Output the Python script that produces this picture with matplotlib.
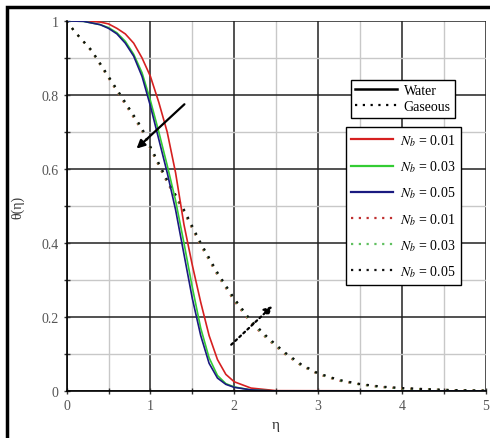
import numpy as np
import matplotlib
matplotlib.use("Agg")
import matplotlib.pyplot as plt
from matplotlib.lines import Line2D
from matplotlib.patches import Rectangle

plt.rcParams['font.family'] = ['Liberation Serif', 'DejaVu Serif']
plt.rcParams['mathtext.fontset'] = 'stix'

# water (solid) curves
eta_w = [0, 0.2, 0.4, 0.5, 0.6, 0.7, 0.8, 0.9, 1.0, 1.1, 1.2, 1.3, 1.4, 1.5,
         1.6, 1.7, 1.8, 1.9, 2.0, 2.2, 2.5, 5.0]
water_nb001 = [1.0, 1.0, 0.997, 0.992, 0.98, 0.965, 0.94, 0.9, 0.85, 0.78, 0.70,
               0.59, 0.45, 0.34, 0.24, 0.15, 0.085, 0.045, 0.025, 0.008, 0.001, 0.0]
water_nb003 = [1.0, 0.999, 0.99, 0.982, 0.968, 0.945, 0.91, 0.86, 0.785, 0.70, 0.61,
               0.515, 0.40, 0.28, 0.17, 0.09, 0.042, 0.02, 0.011, 0.003, 0.0, 0.0]
water_nb005 = [1.0, 0.999, 0.99, 0.98, 0.965, 0.94, 0.905, 0.85, 0.77, 0.68, 0.59,
               0.49, 0.37, 0.25, 0.15, 0.075, 0.035, 0.018, 0.01, 0.003, 0.0, 0.0]

# gaseous (dotted) curves
eta_g = [0, 0.1, 0.3, 0.5, 0.7, 0.9, 1.0, 1.2, 1.4, 1.6, 1.8, 2.0, 2.2, 2.4,
         2.6, 2.8, 3.0, 3.25, 3.5, 3.75, 4.0, 4.5, 5.0]
gas_nb001 = [1.0, 0.97, 0.918, 0.846, 0.775, 0.704, 0.655, 0.564, 0.484, 0.394,
             0.314, 0.244, 0.184, 0.14, 0.101, 0.069, 0.046, 0.028, 0.018, 0.011,
             0.007, 0.003, 0.001]
gas_nb003 = [1.0, 0.97, 0.919, 0.848, 0.778, 0.707, 0.658, 0.567, 0.487, 0.397,
             0.317, 0.247, 0.187, 0.142, 0.103, 0.07, 0.047, 0.029, 0.018, 0.011,
             0.007, 0.003, 0.001]
gas_nb005 = [1.0, 0.97, 0.92, 0.85, 0.78, 0.71, 0.66, 0.57, 0.49, 0.40, 0.32,
             0.25, 0.19, 0.145, 0.105, 0.072, 0.048, 0.03, 0.019, 0.012, 0.008,
             0.003, 0.001]

nb_labels = ["0.01", "0.03", "0.05"]
colors = ["#d62020", "#33cc33", "#1a1a80"]
gas_colors = ["#c03030", "#60c060", "#111111"]

fig = plt.figure(figsize=(4.9, 4.39), dpi=100)
ax = fig.add_axes([0.136, 0.107, 0.855, 0.843])

# outer frame (only top and left edges fall inside the picture)
fig.patches.append(Rectangle((0.015, -0.05), 1.1, 1.032, transform=fig.transFigure,
                             fill=False, edgecolor='black', linewidth=2.5))

ax.set_xlim(0, 5)
ax.set_ylim(0, 1)
ax.set_xticks([0, 1, 2, 3, 4, 5])
ax.set_xticks(np.arange(0, 5.01, 0.5), minor=True)
ax.set_yticks([0, 0.2, 0.4, 0.6, 0.8, 1])
ax.set_yticklabels(["0", "0.2", "0.4", "0.6", "0.8", "1"])
ax.set_yticks(np.arange(0, 1.01, 0.1), minor=True)
ax.grid(which='major', color='#222222', linewidth=1.1)
ax.grid(which='minor', color='#c8c8c8', linewidth=1.0)
ax.set_axisbelow(True)
ax.tick_params(which='both', direction='inout', length=5, width=1,
               labelsize=10, labelcolor='#555555', color='#333333')
for s in ['top', 'right']:
    ax.spines[s].set_visible(False)
for s in ['left', 'bottom']:
    ax.spines[s].set_linewidth(1.2)

for ys, c in zip([gas_nb001, gas_nb003, gas_nb005], gas_colors):
    ax.plot(eta_g, ys, color=c, linestyle=(0, (1, 3)), linewidth=1.6)
for ys, c in zip([water_nb001, water_nb003, water_nb005], colors):
    ax.plot(eta_w, ys, color=c, linewidth=1.2)

# arrows
ax.annotate("", xy=(0.81, 0.65), xytext=(1.43, 0.78),
            arrowprops=dict(arrowstyle='-|>', color='black', lw=1.6,
                            mutation_scale=12))
ax.annotate("", xy=(2.48, 0.235), xytext=(1.94, 0.12),
            arrowprops=dict(arrowstyle='-|>', color='black', lw=1.6,
                            linestyle=(0, (1, 1.5)), mutation_scale=12))

ax.set_xlabel("η", fontsize=11, color='#333333', labelpad=4)
ax.set_ylabel("θ(η)", fontsize=10, color='#333333', labelpad=12)

# legends
h1 = [Line2D([], [], color='black', lw=1.8),
      Line2D([], [], color='black', lw=1.6, linestyle=(0, (1, 2.5)))]
leg1 = ax.legend(h1, ["Water", "Gaseous"], loc='upper center',
                 bbox_to_anchor=(0.803, 0.86), fontsize=10, frameon=True,
                 fancybox=False, edgecolor='black', framealpha=1,
                 handlelength=3.0, labelspacing=0.25, borderpad=0.3,
                 handletextpad=0.5)
leg1.get_frame().set_linewidth(1.0)
ax.add_artist(leg1)

h2 = [Line2D([], [], color=c, lw=1.6) for c in colors] + \
     [Line2D([], [], color=c, lw=1.6, linestyle=(0, (1, 2.5))) for c in gas_colors]
l2 = [r"$N_b$ = " + v for v in nb_labels] * 2
leg2 = ax.legend(h2, l2, loc='upper center', bbox_to_anchor=(0.804, 0.733),
                 fontsize=10, frameon=True, fancybox=False, edgecolor='black',
                 framealpha=1, handlelength=3.0, labelspacing=0.75,
                 borderpad=0.4, handletextpad=0.5)
leg2.get_frame().set_linewidth(1.0)

fig.savefig("out.png", dpi=100)
